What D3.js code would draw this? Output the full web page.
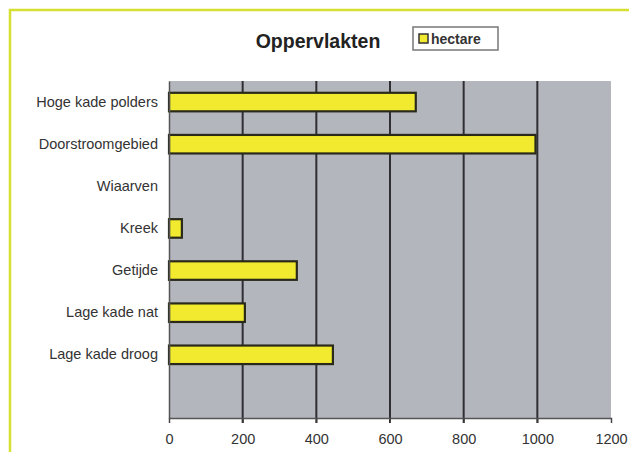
<!DOCTYPE html>
<html><head><meta charset="utf-8">
<script src="https://cdn.jsdelivr.net/npm/d3@7/dist/d3.min.js"></script>
<style>body{margin:0;background:#fff}svg{display:block}</style>
</head><body>
<svg id="c" width="629" height="452"></svg>
<script>
const categories = ["Hoge kade polders","Doorstroomgebied","Wiaarven","Kreek","Getijde","Lage kade nat","Lage kade droog",""];
const hectare = [670, 995, 0, 35, 347, 206, 445, null];
const xTicks = [0,200,400,600,800,1000,1200];
const title = "Oppervlakten";
const legendLabel = "hectare";

const svg = d3.select("#c");
const font = "Liberation Sans, Arial, sans-serif";
// outer frame
svg.append("rect").attr("x",10).attr("y",10).attr("width",700).attr("height",500)
  .attr("fill","none").attr("stroke","#d6e032").attr("stroke-width",2.5);

const m = {l:169, t:81, r:611, b:418};
const x = d3.scaleLinear().domain([0,1200]).range([m.l, m.r]);
const y = d3.scaleBand().domain(categories.map((d,i)=>i)).range([m.t, m.b]).paddingInner(0.56).paddingOuter(0.28);

svg.append("rect").attr("x",m.l).attr("y",m.t).attr("width",m.r-m.l).attr("height",m.b-m.t)
  .attr("fill","#b4b6bd");

// gridlines
svg.append("g").selectAll("line").data(xTicks.filter(d=>d>0 && d<1200)).join("line")
  .attr("x1",d=>x(d)).attr("x2",d=>x(d)).attr("y1",m.t).attr("y2",m.b+5)
  .attr("stroke","#2e2e33").attr("stroke-width",2);

// bars
svg.append("g").selectAll("rect").data(hectare.map((v,i)=>({v,i})).filter(d=>d.v)).join("rect")
  .attr("x",x(0)).attr("y",d=>y(d.i)).attr("width",d=>x(d.v)-x(0)).attr("height",y.bandwidth())
  .attr("fill","#f2ea2e").attr("stroke","#2a2a1a").attr("stroke-width",2.2);

// axes
const xa = svg.append("g").attr("transform",`translate(0,${m.b})`)
  .call(d3.axisBottom(x).tickValues(xTicks).tickSize(5).tickPadding(11).tickFormat(d3.format("d")));
xa.select(".domain").attr("stroke","#555").attr("stroke-width",1.5);
xa.selectAll(".tick line").attr("stroke","#444");
xa.selectAll("text").attr("font-family",font).attr("font-size",14.5).attr("fill","#333");

const ya = svg.append("g").attr("transform",`translate(${m.l},0)`)
  .call(d3.axisLeft(y).tickSize(0).tickPadding(11).tickFormat(i=>categories[i]));
ya.select(".domain").attr("stroke","#555").attr("stroke-width",1.5);
ya.selectAll("text").attr("font-family",font).attr("font-size",14.5).attr("fill","#333");

// title
svg.append("text").attr("x",318).attr("y",48).attr("text-anchor","middle")
  .attr("font-family",font).attr("font-weight","bold").attr("font-size",19.5).attr("fill","#222").text(title);

// legend
svg.append("rect").attr("x",413).attr("y",27).attr("width",85).attr("height",23)
  .attr("fill","#fff").attr("stroke","#777").attr("stroke-width",1.5);
svg.append("rect").attr("x",419).attr("y",34).attr("width",9).attr("height",9)
  .attr("fill","#f2ea2e").attr("stroke","#333").attr("stroke-width",1.5);
svg.append("text").attr("x",431).attr("y",43.5).attr("font-family",font).attr("font-size",14)
  .attr("font-weight","bold").attr("fill","#333").text(legendLabel);
</script>
</body></html>
